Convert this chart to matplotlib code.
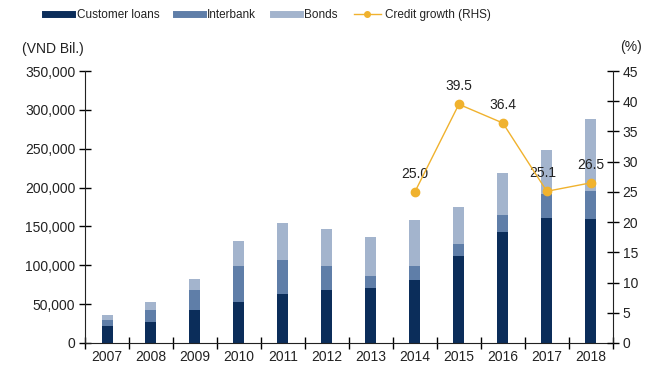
import numpy as np
import matplotlib
matplotlib.use("Agg")
import matplotlib.pyplot as plt
from matplotlib.lines import Line2D
from matplotlib.ticker import FuncFormatter

plt.rcParams["font.family"] = ["Liberation Sans", "DejaVu Sans"]

years = ["2007", "2008", "2009", "2010", "2011", "2012",
         "2013", "2014", "2015", "2016", "2017", "2018"]
customer_loans = [21300, 26900, 41800, 53000, 63600, 68000,
                  71300, 80800, 112300, 142700, 160600, 159000]
interbank = [8200, 14900, 26500, 46500, 43200, 31500,
             14600, 18700, 15000, 22200, 31700, 36300]
bonds = [6800, 11200, 13700, 32000, 47800, 47000,
         50800, 58200, 47100, 53400, 56400, 93500]
growth_years = ["2014", "2015", "2016", "2017", "2018"]
credit_growth = [25.0, 39.5, 36.4, 25.1, 26.5]

c_loans = "#0b2d5a"
c_inter = "#5f7ea8"
c_bonds = "#a3b4cd"
c_line = "#f0b22e"
c_text = "#222222"

fig = plt.figure(figsize=(6.54, 3.74), dpi=100)
ax = fig.add_axes([0.13, 0.083, 0.807, 0.727])

x = np.arange(len(years))
w = 0.25
b1 = np.array(customer_loans)
b2 = b1 + np.array(interbank)
ax.bar(x, customer_loans, w, color=c_loans)
ax.bar(x, interbank, w, bottom=b1, color=c_inter)
ax.bar(x, bonds, w, bottom=b2, color=c_bonds)

ax.set_xlim(-0.5, len(years) - 0.5)
ax.set_ylim(0, 350000)
ax.set_yticks(np.arange(0, 350001, 50000))
ax.yaxis.set_major_formatter(FuncFormatter(lambda v, p: f"{int(v):,}"))
ax.set_xticks(x)
ax.set_xticklabels(years)
ax.set_xticks(np.arange(-0.5, len(years)), minor=True)
ax.tick_params(axis="x", which="major", length=0, pad=5, labelsize=10,
               labelcolor=c_text)
ax.tick_params(axis="x", which="minor", length=8, direction="inout", width=1)
ax.tick_params(axis="y", length=8, direction="inout", width=1, labelsize=10,
               pad=3, labelcolor=c_text)
ax.spines["top"].set_visible(False)
ax.spines["right"].set_visible(False)
for s in ["left", "bottom"]:
    ax.spines[s].set_color(c_text)

ax2 = ax.twinx()
gx = [years.index(y) for y in growth_years]
ax2.plot(gx, credit_growth, color=c_line, lw=1, marker="o", ms=6,
         markerfacecolor=c_line, markeredgecolor=c_line, zorder=5)
offsets = [0, 0, 0, -3, 0]
for xi, v, dx in zip(gx, credit_growth, offsets):
    ax2.annotate(f"{v:.1f}", (xi, v), xytext=(dx, 8),
                 textcoords="offset points", ha="center", va="bottom",
                 fontsize=10, color=c_text)
ax2.set_ylim(0, 45)
ax2.set_yticks(np.arange(0, 46, 5))
ax2.tick_params(axis="y", length=8, direction="inout", width=1, labelsize=10,
                pad=3, labelcolor=c_text)
ax2.spines["top"].set_visible(False)
ax2.spines["left"].set_visible(False)
ax2.spines["bottom"].set_visible(False)
ax2.spines["right"].set_color(c_text)

fig.text(0.033, 0.87, "(VND Bil.)", fontsize=10, color=c_text, va="center")
fig.text(0.948, 0.873, "(%)", fontsize=10, color=c_text, va="center")

handles = [
    Line2D([], [], color=c_loans, lw=5),
    Line2D([], [], color=c_inter, lw=5),
    Line2D([], [], color=c_bonds, lw=5),
    Line2D([], [], color=c_line, lw=1, marker="o", ms=4),
]
labels = ["Customer loans", "Interbank", "Bonds", "Credit growth (RHS)"]
fig.legend(handles, labels, loc="center", bbox_to_anchor=(0.41, 0.96),
           ncol=4, frameon=False, fontsize=8.5, handlelength=2.3,
           columnspacing=1.4, handletextpad=0.35, labelcolor=c_text)

fig.savefig("out.png", dpi=100)
